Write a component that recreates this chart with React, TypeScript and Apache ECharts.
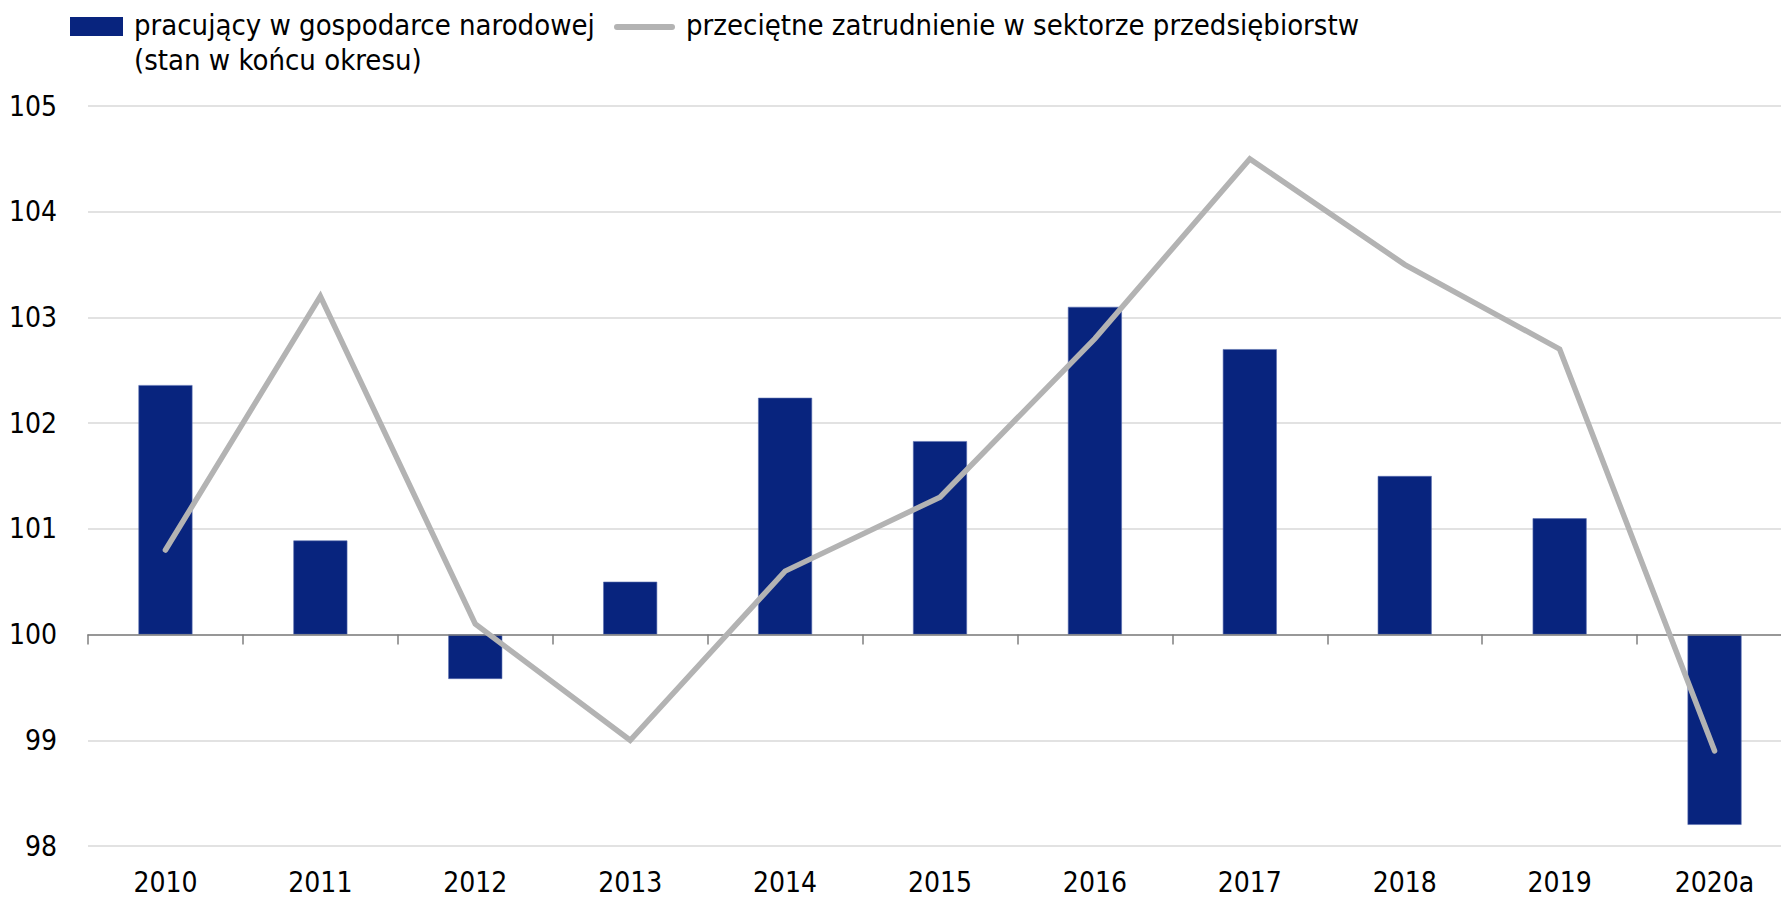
import React, { useEffect, useRef } from "react";
import * as echarts from "echarts";

const years = ["2010", "2011", "2012", "2013", "2014", "2015", "2016", "2017", "2018", "2019", "2020a"];
// pracujący w gospodarce narodowej (stan w końcu okresu), index (prev year = 100)
const employedNational = [102.36, 100.89, 99.58, 100.5, 102.24, 101.83, 103.1, 102.7, 101.5, 101.1, 98.2];
// przeciętne zatrudnienie w sektorze przedsiębiorstw
const avgEmploymentEnterprise = [100.8, 103.2, 100.1, 99.0, 100.6, 101.3, 102.8, 104.5, 103.5, 102.7, 98.9];

const BASE = 100;
const Y_MIN = 98;
const Y_MAX = 105;
const Y_STEP = 1;

const seriesName1 = "pracujący w gospodarce narodowej\n(stan w końcu okresu)";
const seriesName2 = "przeciętne zatrudnienie w sektorze przedsiębiorstw";

const FONT = "'DejaVu Sans Condensed', 'Liberation Sans Narrow', 'Noto Sans', sans-serif";
const BAR_COLOR = "#08247e";
const LINE_COLOR = "#b3b3b3";

export default function App() {
  const ref = useRef<HTMLDivElement>(null);
  useEffect(() => {
    if (!ref.current) return;
    const chart = echarts.init(ref.current, null, { renderer: "svg" });
    chart.setOption({
      animation: false,
      backgroundColor: "#ffffff",
      textStyle: { fontFamily: FONT },
      grid: { left: 88, top: 106, right: 0, bottom: 53, containLabel: false },
      xAxis: [
        {
          type: "category",
          data: years,
          position: "bottom",
          boundaryGap: true,
          axisLine: { show: true, onZero: true, lineStyle: { color: "#7f7f7f", width: 1.5 } },
          axisTick: { show: true, length: 10, alignWithLabel: false, lineStyle: { color: "#7f7f7f", width: 1.5 } },
          axisLabel: { show: false },
          splitLine: { show: false },
          z: 5,
        },
        {
          type: "category",
          data: years,
          position: "bottom",
          gridIndex: 0,
          axisLine: { show: false, onZero: false },
          axisTick: { show: false },
          axisLabel: { show: true, fontSize: 28, color: "#000000", margin: 22, fontFamily: FONT },
          splitLine: { show: false },
        },
      ],
      yAxis: {
        type: "value",
        min: Y_MIN - BASE,
        max: Y_MAX - BASE,
        interval: Y_STEP,
        axisLine: { show: false },
        axisTick: { show: false },
        axisLabel: {
          fontSize: 28,
          color: "#000000",
          margin: 31,
          fontFamily: FONT,
          formatter: (v: number) => String(Math.round(v + BASE)),
        },
        splitLine: { show: true, lineStyle: { color: "#d9d9d9", width: 1.5 } },
      },
      series: [
        {
          name: seriesName1,
          type: "bar",
          xAxisIndex: 0,
          barWidth: 54,
          data: employedNational.map((v) => +(v - BASE).toFixed(3)),
          itemStyle: { color: BAR_COLOR, borderColor: "#5a6fb0", borderWidth: 0.6 },
          z: 2,
        },
        {
          name: seriesName2,
          type: "line",
          xAxisIndex: 0,
          data: avgEmploymentEnterprise.map((v) => +(v - BASE).toFixed(3)),
          symbol: "none",
          lineStyle: { color: LINE_COLOR, width: 5.5, cap: "round", join: "miter" },
          itemStyle: { color: LINE_COLOR },
          z: 10,
        },
      ],
      graphic: [
        { type: "rect", shape: { x: 70, y: 17, width: 53, height: 19 }, style: { fill: BAR_COLOR } },
        {
          type: "text",
          style: { x: 134, y: 25, text: "pracujący w gospodarce narodowej", font: `29px ${FONT}`, fill: "#000", verticalAlign: "middle", align: "left" },
        },
        {
          type: "text",
          style: { x: 134, y: 60, text: "(stan w końcu okresu)", font: `29px ${FONT}`, fill: "#000", verticalAlign: "middle", align: "left" },
        },
        {
          type: "line",
          shape: { x1: 617, y1: 27, x2: 672, y2: 27 },
          style: { stroke: LINE_COLOR, lineWidth: 6, lineCap: "round" },
        },
        {
          type: "text",
          style: { x: 686, y: 25, text: seriesName2, font: `29px ${FONT}`, fill: "#000", verticalAlign: "middle", align: "left" },
        },
      ],
    });
    return () => chart.dispose();
  }, []);
  return (
    <div
      ref={ref}
      style={{ position: "fixed", left: 0, top: 0, width: 1792, height: 899, background: "#fff" }}
    />
  );
}
